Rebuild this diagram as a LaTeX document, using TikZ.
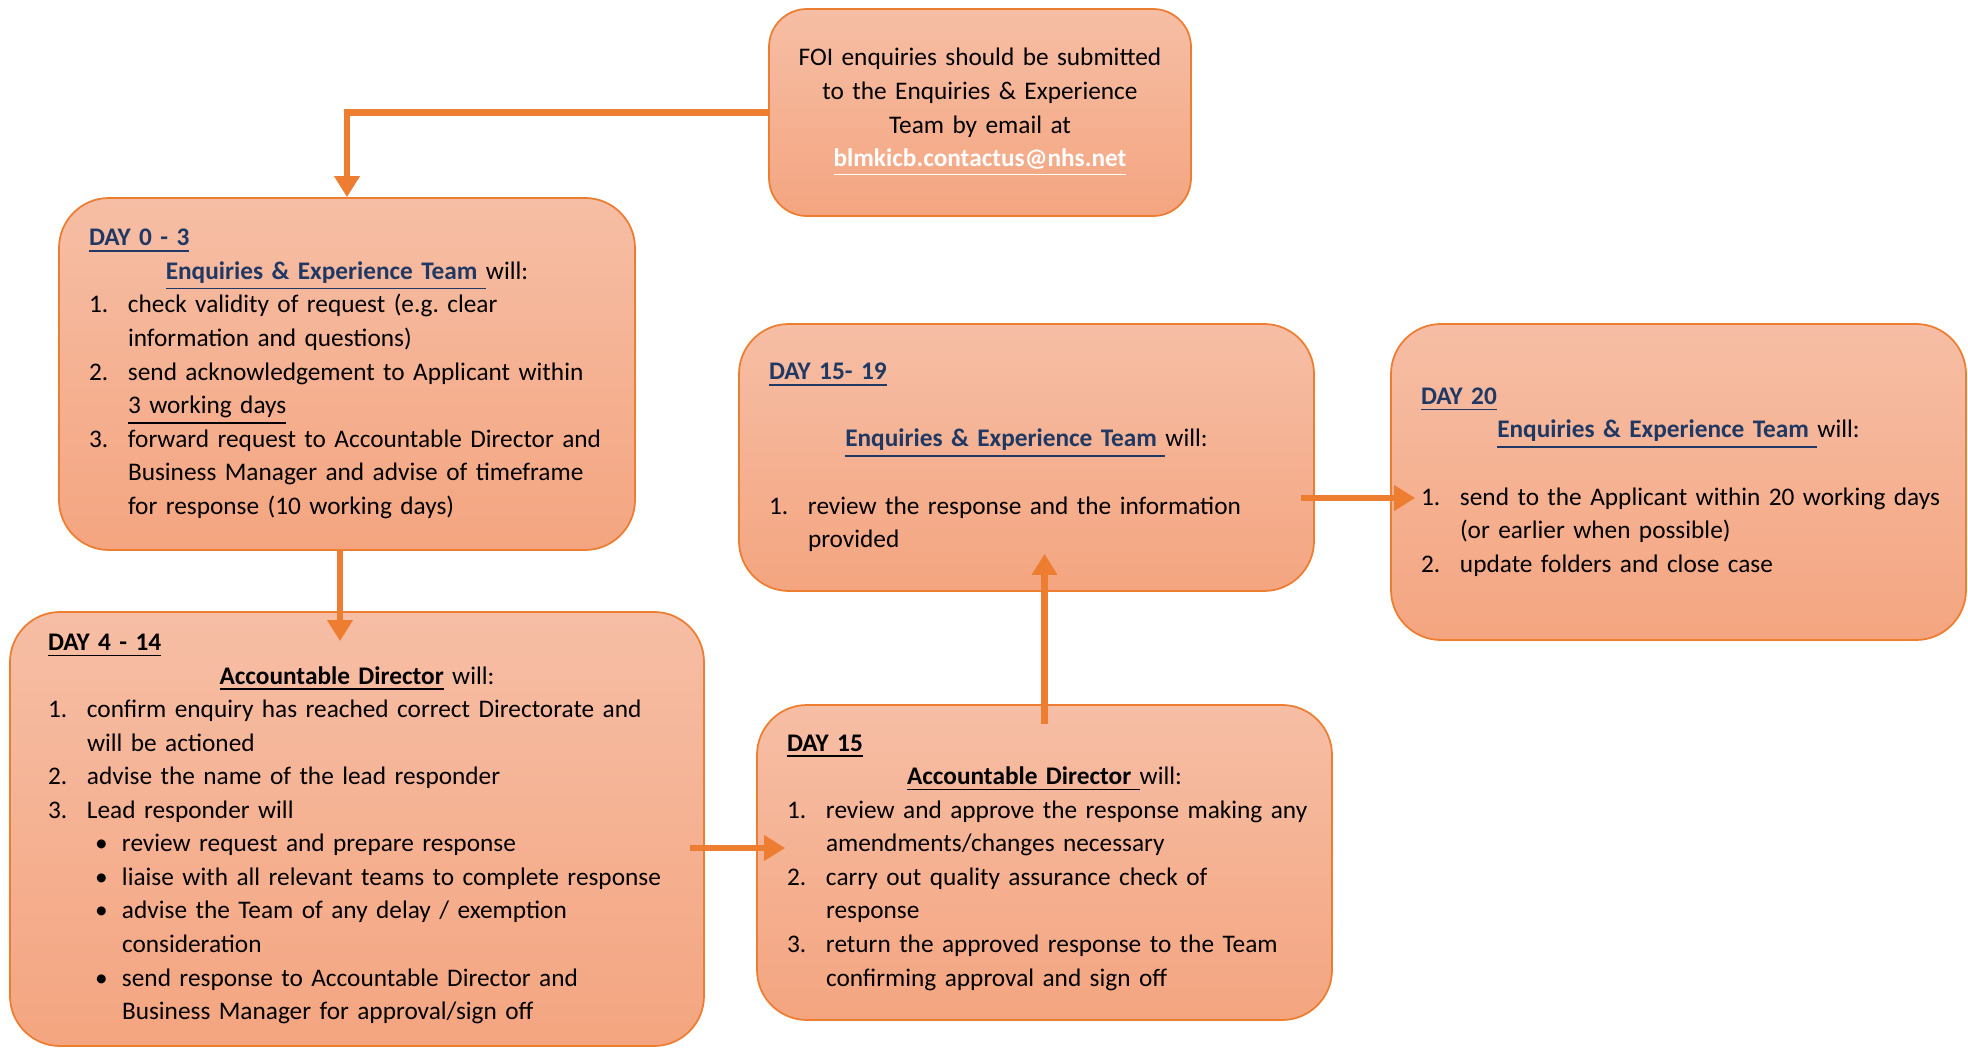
\documentclass[tikz,border=0pt]{standalone}
\usepackage{fontspec}
\setmainfont{Carlito}
\usetikzlibrary{arrows.meta}
\frenchspacing

\definecolor{flowline}{RGB}{237,125,49}
\definecolor{boxtop}{RGB}{246,190,165}
\definecolor{boxbottom}{RGB}{244,165,128}
\definecolor{headblue}{RGB}{31,56,100}

\newcommand{\dayhead}[2][headblue]{\noindent{\color{#1}\bfseries\underline{#2}}\par}
\newcommand{\whohead}[3][headblue]{\centerline{{\color{#1}\bfseries\underline{#2}}#3}}
\newcommand{\numitem}[2]{\par\rightskip=-0.5cm plus 1fil\hangindent=0.39cm\hangafter=1\noindent\makebox[0.39cm][l]{#1}#2\par}
\newcommand{\bulitem}[1]{\par\rightskip=-0.5cm plus 1fil\hangindent=0.74cm\hangafter=1\noindent\hspace*{0.47cm}\makebox[0.27cm][l]{\textbullet}#1\par}
\newcommand{\gapline}{\vspace{\baselineskip}}

\begin{document}
\begin{tikzpicture}[every node/.style={font=\fontsize{7.2}{9.55}\selectfont},
  stage/.style={draw=flowline, line width=0.5pt, top color=boxtop, bottom color=boxbottom,
    rounded corners=0.5cm, inner xsep=0.3cm, align=left},
  flow/.style={draw=flowline, line width=1.8pt, -{Triangle[width=7pt,length=6pt]}}]
  \useasboundingbox (0,0) rectangle (19.68,-10.48);

  % FOI enquiries (top)
  \node[stage, rounded corners=0.38cm, inner xsep=0.16cm, align=center,
    minimum width=4.22cm, minimum height=2.07cm, text width=3.9cm] (foi) at (9.80,-1.125)
    {FOI enquiries should be submitted\\ to the Enquiries \& Experience\\ Team by email at\\
     {\color{white}\bfseries\underline{blmkicb.contactus@nhs.net}}};

  % Day 0 - 3
  \node[stage, minimum width=5.76cm, minimum height=3.52cm, text width=5.16cm] (d03) at (3.47,-3.74) {%
    \dayhead{DAY 0 - 3}
    \whohead{Enquiries \& Experience Team\ }{will:}
    \numitem{1.}{check validity of request (e.g. clear\newline information and questions)}
    \numitem{2.}{send acknowledgement to Applicant within\newline \underline{3 working days}}
    \numitem{3.}{forward request to Accountable Director and\newline Business Manager and advise of timeframe\newline for response (10 working days)}};

  % Day 4 - 14
  \node[stage, inner xsep=0.38cm, minimum width=6.94cm, minimum height=4.34cm, text width=6.18cm] (d414) at (3.57,-8.29) {%
    \dayhead[black]{DAY 4 - 14}
    \whohead[black]{Accountable Director}{ will:}
    \numitem{1.}{confirm enquiry has reached correct Directorate and\newline will be actioned}
    \numitem{2.}{advise the name of the lead responder}
    \numitem{3.}{Lead responder will}
    \bulitem{review request and prepare response}
    \bulitem{liaise with all relevant teams to complete response}
    \bulitem{advise the Team of any delay / exemption\newline consideration}
    \bulitem{send response to Accountable Director and\newline Business Manager for approval/sign off}};

  % Day 15
  \node[stage, minimum width=5.75cm, minimum height=3.15cm, text width=5.15cm] (d15) at (10.445,-8.625) {%
    \dayhead[black]{DAY 15}
    \whohead[black]{Accountable Director\ }{will:}
    \numitem{1.}{review and approve the response making any\newline amendments/changes necessary}
    \numitem{2.}{carry out quality assurance check of\newline response}
    \numitem{3.}{return the approved response to the Team\newline confirming approval and sign off}};

  % Day 15 - 19
  \node[stage, minimum width=5.75cm, minimum height=2.67cm, text width=5.15cm] (d1519) at (10.265,-4.575) {%
    \dayhead{DAY 15- 19}
    \gapline
    \whohead{Enquiries \& Experience Team\ }{will:}
    \gapline
    \numitem{1.}{review the response and the information\newline provided}};

  % Day 20
  \node[stage, minimum width=5.75cm, minimum height=3.16cm, text width=5.15cm] (d20) at (16.785,-4.82) {%
    \dayhead{DAY 20}
    \whohead{Enquiries \& Experience Team\ }{will:}
    \gapline
    \numitem{1.}{send to the Applicant within 20 working days\newline (or earlier when possible)}
    \numitem{2.}{update folders and close case}};

  % connectors
  \draw[flow] (foi.west) -| (d03.north);
  \draw[flow, shorten <=-0.02cm, shorten >=-0.3cm] ([xshift=-0.07cm,yshift=-0.02cm]d03.south) -- ([xshift=-0.07cm]d03.south |- d414.north);
  \draw[flow, shorten <=-0.15cm, shorten >=-0.29cm] ([yshift=-0.19cm]d414.east) -- ([yshift=-0.19cm]d414.east -| d15.west);
  \draw[flow, shorten <=-0.2cm, shorten >=-0.38cm] (d15.north) -- (d15.north |- d1519.south);
  \draw[flow, shorten <=-0.14cm, shorten >=-0.25cm] ([yshift=-0.405cm]d1519.east) -- ([yshift=-0.405cm]d1519.east -| d20.west);
\end{tikzpicture}
\end{document}
